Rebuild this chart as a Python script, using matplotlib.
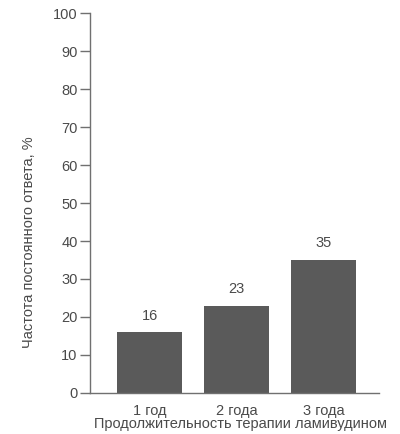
import numpy as np
import matplotlib.pyplot as plt

plt.rcParams['font.family'] = ['Liberation Sans', 'DejaVu Sans']

categories = ['1 год', '2 года', '3 года']
values = [16, 23, 35]
yticks = [0, 10, 20, 30, 40, 50, 60, 70, 80, 90, 100]

txt = '#4a4a4a'
fig = plt.figure(figsize=(4, 4.34), dpi=100)
ax = fig.add_axes([0.225, 0.0945, 0.7225, 0.8755])

x = np.arange(len(categories))
ax.bar(x, values, width=0.75, color='#5a5a5a')
for xi, v in zip(x, values):
    ax.text(xi, v + 2.5, str(v), ha='center', va='bottom', fontsize=10.5, color=txt)

ax.set_xlim(-0.684, 2.638)
ax.set_ylim(0, 100)
ax.set_yticks(yticks)
ax.set_xticks(x)
ax.set_xticklabels(categories)
ax.tick_params(axis='y', length=7, width=1, color='#707070', labelsize=10.5, labelcolor=txt, pad=2)
ax.tick_params(axis='x', length=0, labelsize=10.5, labelcolor=txt, pad=8)
for s in ['top', 'right']:
    ax.spines[s].set_visible(False)
for s in ['left', 'bottom']:
    ax.spines[s].set_color('#707070')
    ax.spines[s].set_linewidth(1)
ax.spines['left'].set_bounds(0, 100)
fig.text(0.6025, 0.023, 'Продолжительность терапии ламивудином', ha='center', va='center',
         fontsize=10.5, color=txt)
fig.text(0.0725, 0.442, 'Частота постоянного ответа, %', rotation=90,
         ha='center', va='center', fontsize=10.5, color=txt)

fig.savefig('out.png')
